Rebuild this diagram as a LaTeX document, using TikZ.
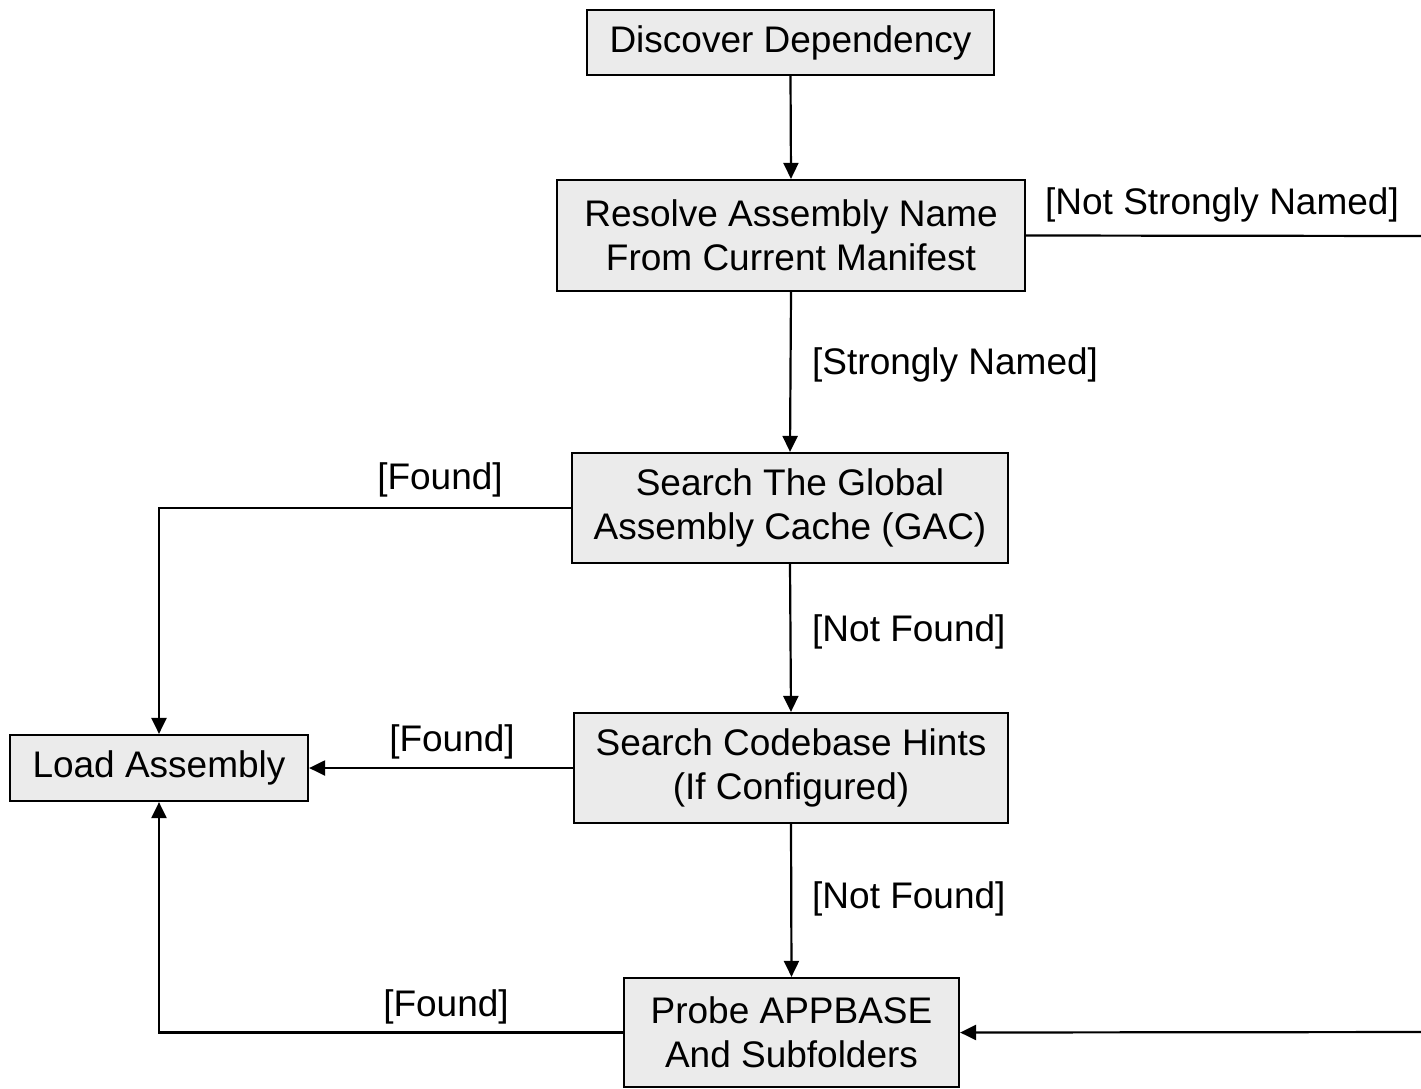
\documentclass[tikz,border=0pt]{standalone}
\usepackage{fontspec}
\setmainfont{Liberation Sans}
\usetikzlibrary{arrows.meta}
\definecolor{boxfill}{RGB}{235,235,235}
\begin{document}
\begin{tikzpicture}[x=1pt,y=-1pt,
  box/.style={draw=black,line width=2.2pt,fill=boxfill,inner sep=0pt,align=center,
    font=\fontsize{37}{44}\selectfont},
  lbl/.style={inner sep=0pt,font=\fontsize{37}{44}\selectfont},
  conn/.style={line width=2.2pt,-{Triangle[length=16pt,width=15pt]}}]
\useasboundingbox (0,0) rectangle (1421,1088);
\node[box,minimum width=407pt,minimum height=65pt] (disc) at (790.5,42.5) {Discover Dependency};
\node[box,minimum width=468pt,minimum height=111pt] (res) at (791,235.5) {Resolve Assembly Name\\From Current Manifest};
\node[box,minimum width=436pt,minimum height=110pt] (gac) at (790,508) {Search The Global\\Assembly Cache (GAC)};
\node[box,minimum width=434pt,minimum height=110pt] (code) at (791,768) {Search Codebase Hints\\(If Configured)};
\node[box,minimum width=335pt,minimum height=109pt] (probe) at (791.5,1032.5) {Probe APPBASE\\And Subfolders};
\node[box,minimum width=298pt,minimum height=66pt] (load) at (159,768) {Load Assembly};

\coordinate (rtop) at (1432,236);
\coordinate (rbot) at (1432,1032);

\draw[conn] (disc.south) -- (res.north);
\draw[conn] (res.south) -- (gac.north);
\draw[conn] (gac.south) -- (code.north);
\draw[conn] (code.south) -- (probe.north);
\draw[conn] (gac.west) -| (load.north);
\draw[conn] (code.west) -- (load.east);
\draw[conn] (probe.west) -| (load.south);
\draw[conn] (res.east) -- (rtop) -- (rbot) -- (probe.east);

\node[lbl,anchor=west] (l1) at (812,365) {[Strongly Named]};
\node[lbl,anchor=west] (l2) at (812,632) {[Not Found]};
\node[lbl,anchor=west] (l3) at (812,899) {[Not Found]};
\node[lbl] (l4) at (440,480) {[Found]};
\node[lbl] (l5) at (452,742) {[Found]};
\node[lbl] (l6) at (446,1007) {[Found]};
\node[lbl] (l7) at (1222,205) {[Not Strongly Named]};
\end{tikzpicture}
\end{document}
